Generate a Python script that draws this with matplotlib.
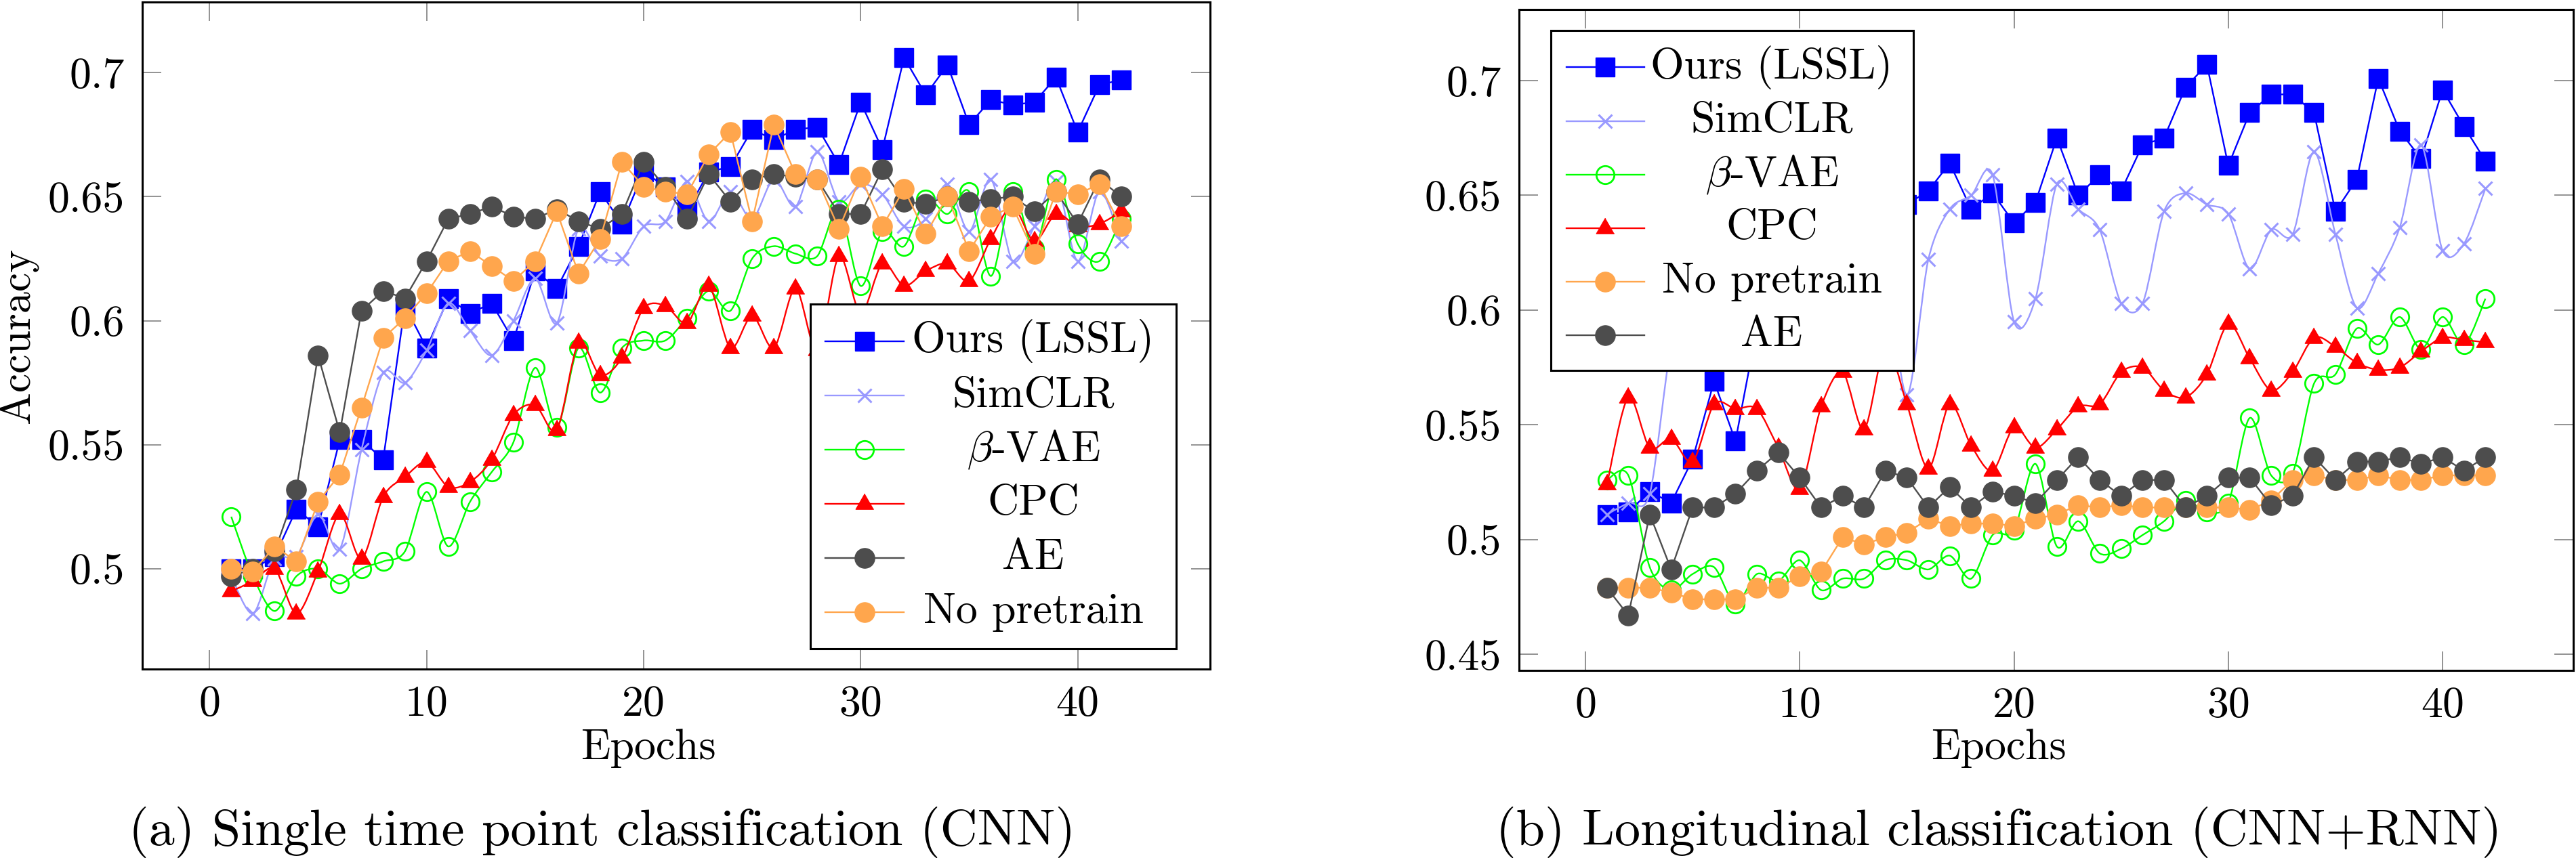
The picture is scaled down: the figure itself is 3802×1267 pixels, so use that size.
import numpy as np
import matplotlib
matplotlib.use("Agg")
import matplotlib.pyplot as plt
from matplotlib.path import Path
from matplotlib.patches import PathPatch, Rectangle

plt.rcParams["font.family"] = "cmr10"
plt.rcParams["mathtext.fontset"] = "cm"
plt.rcParams["axes.formatter.use_mathtext"] = True
plt.rcParams["axes.unicode_minus"] = False

EPOCHS = list(range(1, 43))

# (a) single time point classification (CNN)
ours_a = [0.500, 0.500, 0.505, 0.524, 0.517, 0.552, 0.552, 0.544, 0.606, 0.589,
          0.609, 0.603, 0.607, 0.592, 0.620, 0.613, 0.630, 0.652, 0.639, 0.660,
          0.654, 0.644, 0.660, 0.662, 0.677, 0.673, 0.677, 0.678, 0.663, 0.688,
          0.669, 0.706, 0.691, 0.703, 0.679, 0.689, 0.687, 0.688, 0.698, 0.676,
          0.695, 0.697]
simclr_a = [0.497, 0.482, 0.504, 0.505, 0.522, 0.508, 0.548, 0.579, 0.575, 0.588,
            0.607, 0.596, 0.586, 0.600, 0.617, 0.599, 0.637, 0.626, 0.625, 0.638,
            0.640, 0.656, 0.640, 0.652, 0.641, 0.657, 0.646, 0.668, 0.648, 0.655,
            0.651, 0.638, 0.641, 0.655, 0.636, 0.657, 0.624, 0.638, 0.656, 0.624,
            0.652, 0.632]
bvae_a = [0.521, 0.497, 0.483, 0.497, 0.500, 0.494, 0.500, 0.503, 0.507, 0.531,
          0.509, 0.527, 0.539, 0.551, 0.581, 0.557, 0.589, 0.571, 0.589, 0.592,
          0.592, 0.601, 0.612, 0.604, 0.625, 0.630, 0.627, 0.626, 0.645, 0.614,
          0.636, 0.630, 0.649, 0.643, 0.652, 0.618, 0.652, 0.629, 0.657, 0.631,
          0.624, 0.641]
cpc_a = [0.491, 0.495, 0.500, 0.482, 0.499, 0.522, 0.504, 0.529, 0.537, 0.543,
         0.533, 0.535, 0.544, 0.562, 0.566, 0.556, 0.591, 0.578, 0.585, 0.605,
         0.606, 0.599, 0.614, 0.589, 0.602, 0.589, 0.613, 0.588, 0.626, 0.603,
         0.623, 0.614, 0.620, 0.623, 0.616, 0.633, 0.646, 0.632, 0.643, 0.638,
         0.639, 0.644]
ae_a = [0.497, 0.500, 0.507, 0.532, 0.586, 0.555, 0.604, 0.612, 0.609, 0.624,
        0.641, 0.643, 0.646, 0.642, 0.641, 0.645, 0.640, 0.637, 0.643, 0.664,
        0.654, 0.641, 0.659, 0.648, 0.657, 0.659, 0.658, 0.657, 0.643, 0.643,
        0.661, 0.648, 0.647, 0.650, 0.648, 0.649, 0.650, 0.644, 0.652, 0.639,
        0.657, 0.650]
nopre_a = [0.500, 0.499, 0.509, 0.503, 0.527, 0.538, 0.565, 0.593, 0.601, 0.611,
           0.624, 0.628, 0.622, 0.616, 0.624, 0.644, 0.619, 0.633, 0.664, 0.654,
           0.652, 0.651, 0.667, 0.676, 0.640, 0.679, 0.659, 0.657, 0.637, 0.658,
           0.638, 0.653, 0.635, 0.650, 0.628, 0.642, 0.646, 0.627, 0.652, 0.651,
           0.655, 0.638]

# (b) longitudinal classification (CNN+RNN)
ours_b = [0.511, 0.512, 0.521, 0.516, 0.535, 0.569, 0.543, 0.592, 0.605, 0.615,
          0.625, 0.632, 0.638, 0.640, 0.646, 0.652, 0.664, 0.644, 0.651, 0.638,
          0.647, 0.675, 0.650, 0.659, 0.652, 0.672, 0.675, 0.697, 0.707, 0.663,
          0.686, 0.694, 0.694, 0.686, 0.643, 0.657, 0.701, 0.678, 0.666, 0.696,
          0.680, 0.665]
simclr_b = [0.511, 0.516, 0.520, 0.585, 0.615, 0.630, 0.640, 0.645, 0.650, 0.640,
            0.645, 0.650, 0.640, 0.620, 0.563, 0.622, 0.644, 0.650, 0.659, 0.595,
            0.605, 0.655, 0.644, 0.635, 0.603, 0.603, 0.643, 0.651, 0.646, 0.642,
            0.618, 0.635, 0.633, 0.669, 0.633, 0.601, 0.616, 0.636, 0.672, 0.626,
            0.629, 0.653]
bvae_b = [0.526, 0.528, 0.488, 0.478, 0.485, 0.488, 0.472, 0.485, 0.482, 0.491,
          0.478, 0.483, 0.483, 0.491, 0.491, 0.487, 0.493, 0.483, 0.502, 0.504,
          0.533, 0.497, 0.508, 0.494, 0.496, 0.502, 0.508, 0.517, 0.512, 0.516,
          0.553, 0.528, 0.529, 0.568, 0.572, 0.592, 0.585, 0.597, 0.583, 0.597,
          0.585, 0.605]
cpc_b = [0.524, 0.562, 0.540, 0.544, 0.534, 0.559, 0.557, 0.557, 0.540, 0.522,
         0.558, 0.573, 0.548, 0.584, 0.559, 0.531, 0.559, 0.541, 0.530, 0.549,
         0.540, 0.548, 0.558, 0.559, 0.573, 0.575, 0.565, 0.562, 0.572, 0.594,
         0.579, 0.565, 0.573, 0.588, 0.584, 0.577, 0.574, 0.575, 0.582, 0.588,
         0.587, 0.586]
ae_b = [0.479, 0.467, 0.511, 0.487, 0.514, 0.514, 0.520, 0.530, 0.538, 0.527,
        0.514, 0.519, 0.514, 0.530, 0.527, 0.514, 0.523, 0.514, 0.521, 0.519,
        0.516, 0.526, 0.536, 0.526, 0.519, 0.526, 0.526, 0.514, 0.519, 0.527,
        0.527, 0.515, 0.519, 0.536, 0.526, 0.534, 0.534, 0.536, 0.533, 0.536,
        0.530, 0.536]
nopre_b = [0.479, 0.479, 0.479, 0.477, 0.474, 0.474, 0.474, 0.479, 0.479, 0.484,
           0.486, 0.501, 0.498, 0.501, 0.503, 0.509, 0.506, 0.507, 0.507, 0.506,
           0.509, 0.511, 0.515, 0.514, 0.515, 0.514, 0.514, 0.514, 0.514, 0.514,
           0.513, 0.517, 0.526, 0.528, 0.526, 0.526, 0.528, 0.526, 0.526, 0.528,
           0.528, 0.528]

X_TICKS = [0, 10, 20, 30, 40]
Y_TICKS_A = [0.5, 0.55, 0.6, 0.65, 0.7]
Y_TICKS_B = [0.45, 0.5, 0.55, 0.6, 0.65, 0.7]

LABEL_OURS = "Ours (LSSL)"
LABEL_SIMCLR = "SimCLR"
LABEL_BVAE = r"$\beta$-VAE"
LABEL_CPC = "CPC"
LABEL_AE = "AE"
LABEL_NOPRE = "No pretrain"

TRI = [(0, 1), (-0.866, -0.5), (0.866, -0.5)]
STYLE = {
    LABEL_OURS: dict(color="#0000ff", marker="s", ms=20, mfc="#0000ff", mew=1, smooth=False),
    LABEL_SIMCLR: dict(color="#9999ff", marker="x", ms=15, mfc="#9999ff", mew=2.2, smooth=True),
    LABEL_BVAE: dict(color="#00ff00", marker="o", ms=19, mfc="none", mew=2.0, smooth=True),
    LABEL_CPC: dict(color="#ff0000", marker=TRI, ms=22, mfc="#ff0000", mew=1, smooth=True),
    LABEL_AE: dict(color="#4d4d4d", marker="o", ms=21, mfc="#4d4d4d", mew=1, smooth=False),
    LABEL_NOPRE: dict(color="#ffa64d", marker="o", ms=21, mfc="#ffa64d", mew=1, smooth=False),
}
LW = 1.7
FS = 46


def _smooth_path(x, y, k=0.15):
    pts = np.column_stack([x, y]).astype(float)
    n = len(pts)
    verts = [pts[0]]
    codes = [Path.MOVETO]
    for i in range(n - 1):
        p0 = pts[max(i - 1, 0)]
        p1, p2 = pts[i], pts[i + 1]
        p3 = pts[min(i + 2, n - 1)]
        verts += [p1 + (p2 - p0) * k, p2 - (p3 - p1) * k, p2]
        codes += [Path.CURVE4] * 3
    return Path(verts, codes)


def _draw_series(ax, series):
    for i, (label, vals) in enumerate(series):
        st = STYLE[label]
        z = 2 + i * 0.1
        if st["smooth"]:
            ax.add_patch(PathPatch(_smooth_path(EPOCHS, vals), fill=False,
                                   ec=st["color"], lw=LW, zorder=z))
            ls = "none"
        else:
            ls = "-"
        ax.plot(EPOCHS, vals, ls=ls, lw=LW, color=st["color"], marker=st["marker"],
                ms=st["ms"], mfc=st["mfc"], mec=st["color"], mew=st["mew"],
                zorder=z + 0.05)


def _legend(ax, series, box, row0, step, hx, tx):
    x0, y0, x1, y1 = box
    ax.add_patch(Rectangle((x0, y0), x1 - x0, y1 - y0, transform=ax.transAxes,
                           fc="white", ec="black", lw=2.2, zorder=10))
    for i, (label, _) in enumerate(series):
        st = STYLE[label]
        ry = row0 - i * step
        ax.plot([hx[0], hx[2]], [ry, ry], transform=ax.transAxes, color=st["color"],
                lw=LW, zorder=11, clip_on=False)
        ax.plot([hx[1]], [ry], transform=ax.transAxes, ls="none", marker=st["marker"],
                ms=st["ms"], mfc=st["mfc"], mec=st["color"], mew=st["mew"],
                zorder=12, clip_on=False)
        ax.text(tx, ry, label, transform=ax.transAxes, ha="center", va="center",
                fontsize=FS, zorder=12)


def _setup(ax, series, yticks):
    allv = np.concatenate([np.asarray(v) for _, v in series])
    lo, hi = allv.min(), allv.max()
    pad = 0.1 * (hi - lo)
    ax.set_ylim(lo - pad, hi + pad)
    xpad = 0.1 * (EPOCHS[-1] - EPOCHS[0])
    ax.set_xlim(EPOCHS[0] - xpad, EPOCHS[-1] + xpad)
    ax.set_xticks(X_TICKS, [str(t) for t in X_TICKS])
    ax.set_yticks(yticks, ["%g" % t for t in yticks])
    ax.tick_params(direction="in", length=20, width=1.2, color="#808080",
                   top=True, right=True, labelsize=FS)
    ax.tick_params(axis="y", pad=19)
    ax.tick_params(axis="x", pad=17)
    for sp in ax.spines.values():
        sp.set_linewidth(2.2)


def main():
    fig = plt.figure(figsize=(38.02, 12.67), dpi=100)
    W, H = 3802, 1267

    ax_a = fig.add_axes([210 / W, (H - 988) / H, 1576 / W, 985 / H])
    series_a = [(LABEL_OURS, ours_a), (LABEL_SIMCLR, simclr_a), (LABEL_BVAE, bvae_a),
                (LABEL_CPC, cpc_a), (LABEL_AE, ae_a), (LABEL_NOPRE, nopre_a)]
    _draw_series(ax_a, series_a)
    _setup(ax_a, series_a, Y_TICKS_A)
    ax_a.set_xlabel("Epochs", fontsize=FS)
    ax_a.xaxis.set_label_coords(0.474, -0.089)
    ax_a.set_ylabel("Accuracy", fontsize=FS)
    ax_a.yaxis.set_label_coords(-0.097, 0.5)
    _legend(ax_a, series_a, (0.6256, 0.0305, 0.9683, 0.5472), 0.4914, 0.0812,
            (0.6396, 0.6764, 0.7132), 0.8344)

    ax_b = fig.add_axes([2242 / W, (H - 990) / H, 1556 / W, 976 / H])
    series_b = [(LABEL_OURS, ours_b), (LABEL_SIMCLR, simclr_b), (LABEL_BVAE, bvae_b),
                (LABEL_CPC, cpc_b), (LABEL_NOPRE, nopre_b), (LABEL_AE, ae_b)]
    _draw_series(ax_b, series_b)
    _setup(ax_b, series_b, Y_TICKS_B)
    ax_b.set_xlabel("Epochs", fontsize=FS)
    ax_b.xaxis.set_label_coords(0.455, -0.088)
    _legend(ax_b, series_b, (0.0302, 0.4539, 0.374, 0.968), 0.9124, 0.0810,
            (0.0450, 0.0816, 0.1189), 0.2397)

    fig.text(889 / W, 38 / H, "(a) Single time point classification (CNN)",
             ha="center", va="center", fontsize=55)
    fig.text(2950 / W, 38 / H, "(b) Longitudinal classification (CNN+RNN)",
             ha="center", va="center", fontsize=55)

    fig.savefig("out.png", dpi=100)
    plt.close(fig)


if __name__ == "__main__":
    main()
